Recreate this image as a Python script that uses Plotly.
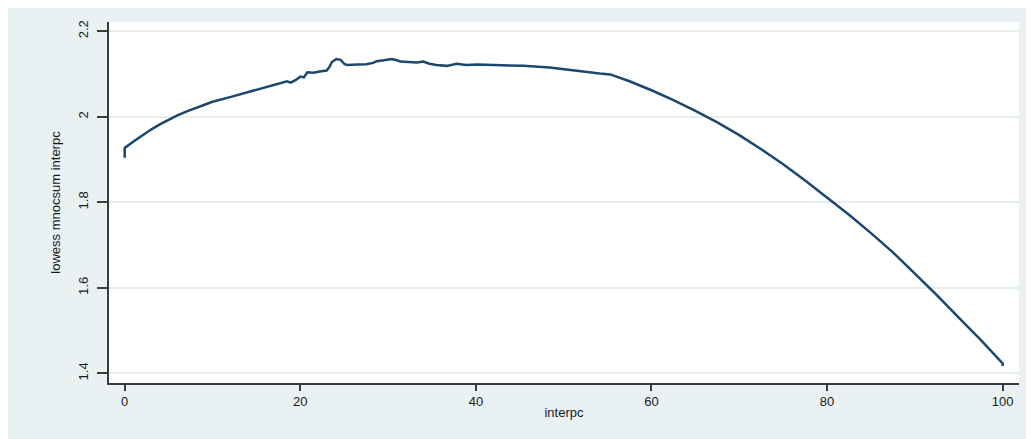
import plotly.graph_objects as go

# Data (interpc vs lowess mnocsum interpc)
interpc = [0, 0, 0, 1, 2, 3, 4, 5, 6, 7, 8, 9, 10, 12, 14, 16,
           17.7, 18.5, 18.9, 19.5, 20.0, 20.4, 20.8, 21.5, 22.2, 23.0, 23.3, 23.6,
           24.1, 24.6, 25.0, 25.3, 26.5, 27.5, 28.3, 28.7, 29.5, 30.4, 31.0, 31.4,
           32.3, 33.3, 34.0, 34.7, 35.5, 36.7, 37.8, 38.9, 40.1, 42.7, 45.4, 48.4,
           50.3, 52.2, 54.1, 55.3, 57.5, 60, 62.5, 65, 67.5, 70, 72.5, 75, 77.5,
           80, 82.5, 85, 87.5, 90, 92.5, 95, 97.5, 100, 100]
lowess = [1.904, 1.915, 1.927, 1.942, 1.957, 1.970, 1.982, 1.993, 2.003, 2.012, 2.020,
          2.028, 2.035, 2.046, 2.057, 2.068, 2.078, 2.083, 2.080, 2.086, 2.094, 2.092,
          2.104, 2.103, 2.106, 2.108, 2.116, 2.128, 2.135, 2.133, 2.124, 2.121, 2.122,
          2.123, 2.126, 2.130, 2.132, 2.135, 2.132, 2.129, 2.128, 2.127, 2.129, 2.124,
          2.121, 2.119, 2.124, 2.121, 2.122, 2.121, 2.119, 2.115, 2.111, 2.106, 2.101,
          2.099, 2.083, 2.062, 2.039, 2.014, 1.987, 1.957, 1.924, 1.889, 1.851, 1.812,
          1.771, 1.728, 1.683, 1.633, 1.583, 1.530, 1.478, 1.423, 1.417]

x_ticks = [0, 20, 40, 60, 80, 100]
y_ticks = [1.4, 1.6, 1.8, 2.0, 2.2]
y_tick_text = ["1.4", "1.6", "1.8", "2", "2.2"]

BG = "#E9F1F3"
GRID = "#E6EEF0"
LINE = "#1A476F"
AX = "#3C3C3C"
FONT = "Liberation Sans, Arial, sans-serif"

fig = go.Figure()
fig.add_trace(go.Scatter(x=interpc, y=lowess, mode="lines",
                         line=dict(color=LINE, width=2.5), showlegend=False))

fig.update_layout(
    width=1034, height=439,
    margin=dict(l=101, r=23, t=12, b=64),
    paper_bgcolor=BG, plot_bgcolor="white",
    font=dict(family=FONT, size=13, color="#1a1a1a"),
    xaxis=dict(range=[-1.79, 101.86], tickvals=x_ticks, showgrid=False,
               showline=True, linecolor=AX, linewidth=1.5, mirror=False,
               ticks="outside", ticklen=6, tickwidth=1.5, tickcolor=AX,
               zeroline=False, tickfont=dict(size=13),
               title=dict(text="interpc", font=dict(size=13), standoff=0)),
    yaxis=dict(range=[1.3774, 2.2216], tickvals=y_ticks, ticktext=y_tick_text,
               showgrid=True, gridcolor=GRID, gridwidth=1.5,
               showline=True, linecolor=AX, linewidth=1.5,
               ticks="outside", ticklen=10, tickwidth=1.5, tickcolor=AX,
               tickangle=-90, zeroline=False, tickfont=dict(size=13),
               ticklabelstandoff=4,
               title=dict(text="lowess mnocsum interpc", font=dict(size=13), standoff=12)),
)

fig.write_html("out.html")
